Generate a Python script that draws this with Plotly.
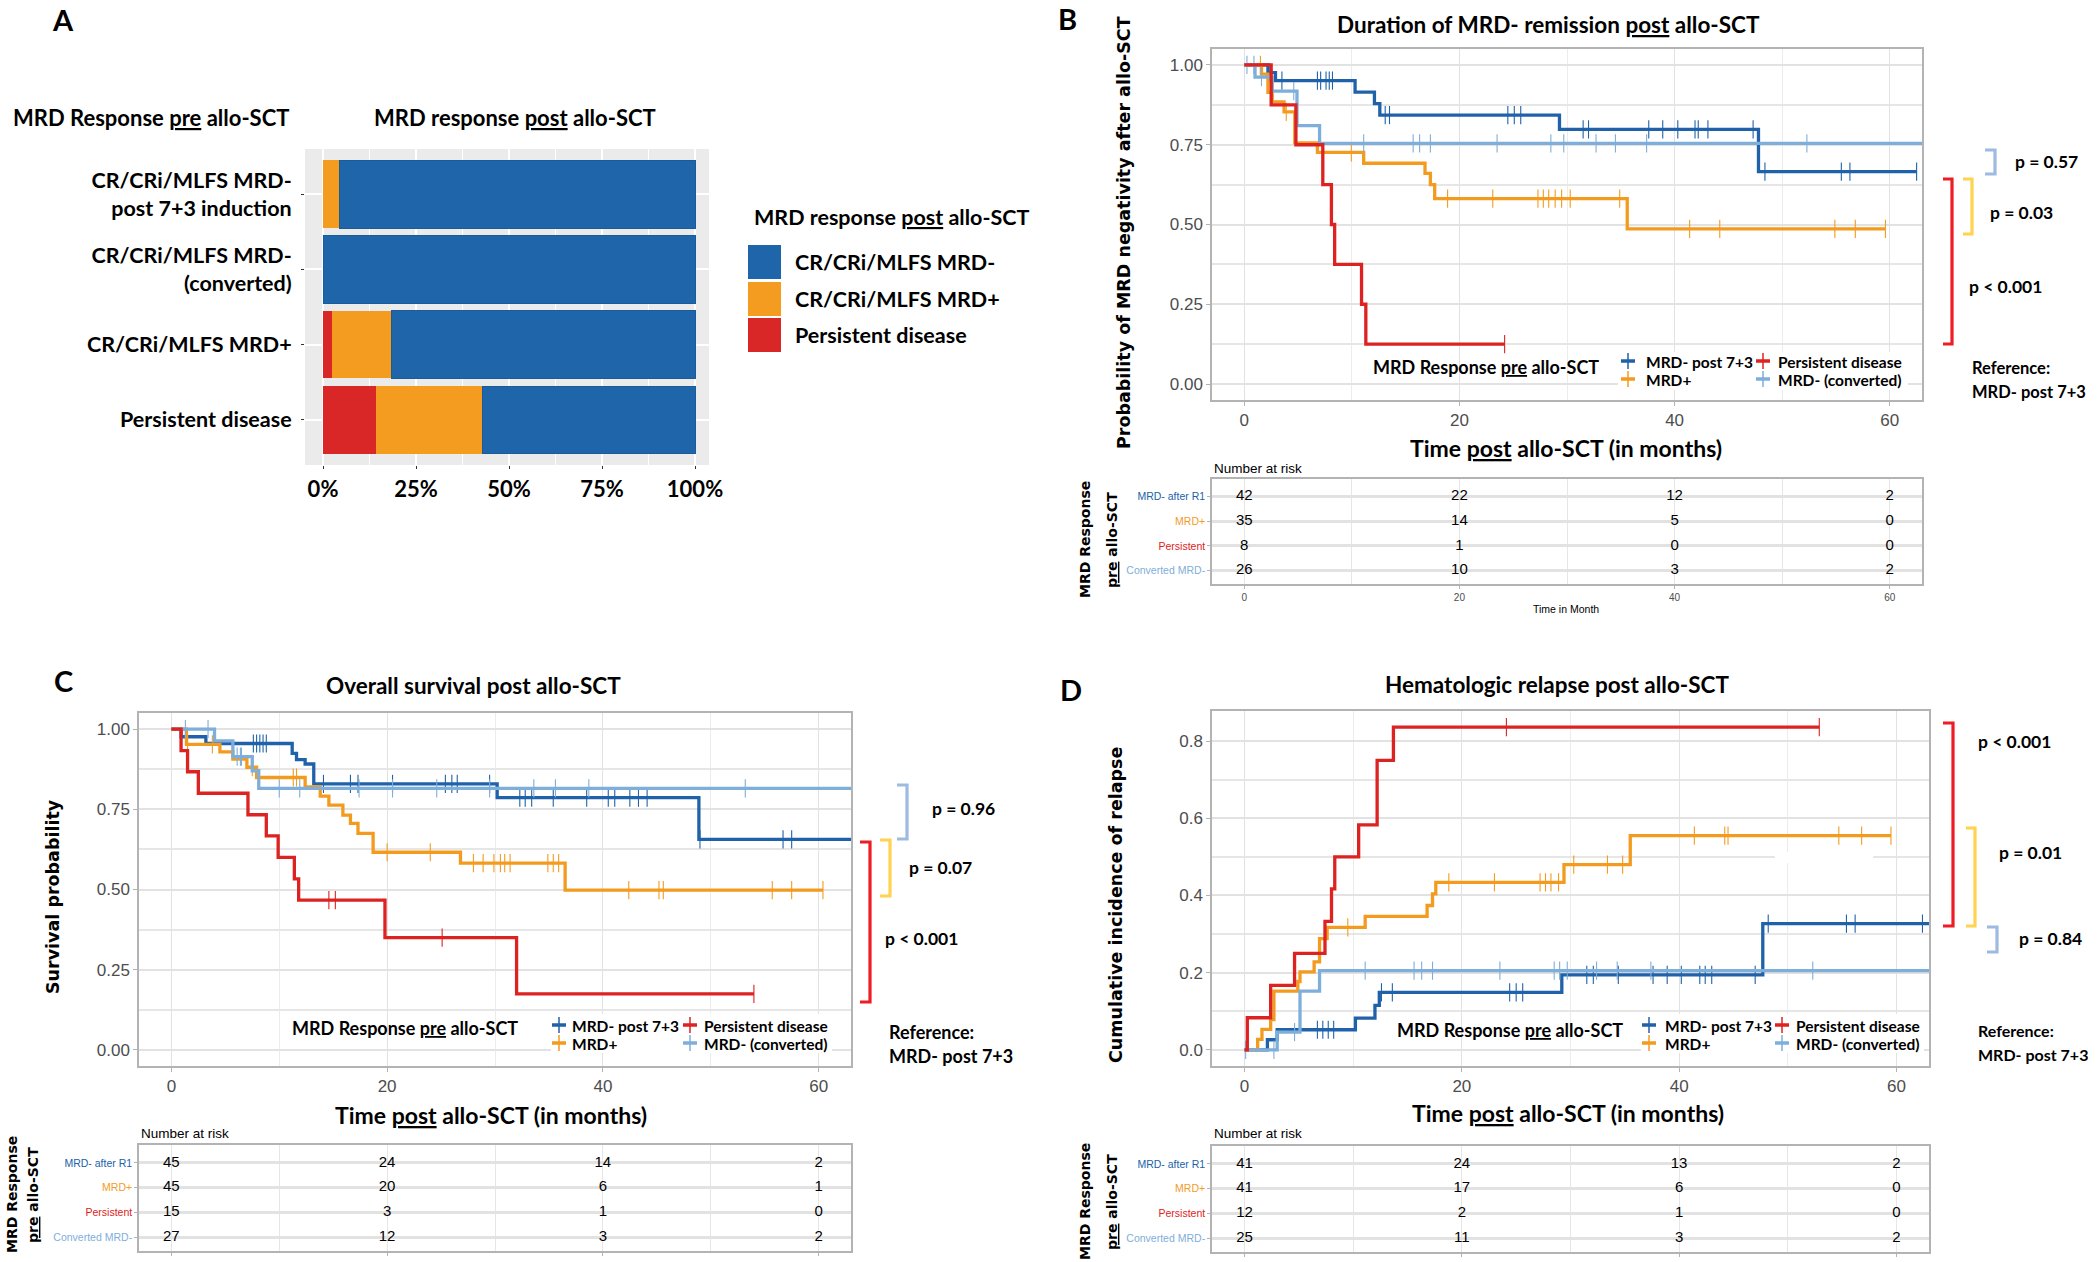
import plotly.graph_objects as go

W, H = 2100, 1262
def X(p): return p / W
def Y(p): return 1 - p / H

LATO = "Lato, Carlito, Calibri, sans-serif"
DEJA = "DejaVu Sans, Verdana, sans-serif"
LIB = "Liberation Sans, Arial, sans-serif"

BLUE = "#2062A9"; ORANGE = "#F39B1F"; RED = "#DD2222"; LBLUE = "#7EAEDA"
BAR_BLUE = "#1F65A9"; BAR_ORANGE = "#F39C20"; BAR_RED = "#D92727"

# ---------------- Panel A data ----------------
a_categories = ["CR/CRi/MLFS MRD-<br>post 7+3 induction", "CR/CRi/MLFS MRD-<br>(converted)",
                "CR/CRi/MLFS MRD+", "Persistent disease"]
a_persistent = [0.0, 0.0, 2.3, 14.3]
a_mrd_pos = [4.5, 0.0, 16.1, 28.6]
a_mrd_neg = [95.5, 100.0, 81.6, 57.1]
a_series = ["Persistent disease", "CR/CRi/MLFS MRD+", "CR/CRi/MLFS MRD-"]
a_ticks = [0, 25, 50, 75, 100]
a_ticklabels = ["0%", "25%", "50%", "75%", "100%"]

# ---------------- Panel B data (duration of MRD- remission) ----------------
b_blue_t = [0, 2.2, 2.9, 10.3, 12.1, 12.6, 29.3, 47.8, 62.5]
b_blue_s = [1.0, 0.976, 0.951, 0.915, 0.879, 0.843, 0.798, 0.666, 0.666]
b_blue_cens = [2.3, 3.5, 6.8, 7.1, 7.6, 7.9, 8.2, 13.1, 13.5, 24.5, 25.1, 25.7, 31.5, 32.0, 37.6, 38.9,
               40.3, 41.9, 42.2, 43.1, 47.3, 48.4, 55.5, 56.3, 62.5]
b_orange_t = [0, 1.6, 2.2, 2.6, 3.7, 4.7, 6.8, 11.1, 16.8, 17.3, 17.7, 35.6, 59.6]
b_orange_s = [1.0, 0.971, 0.914, 0.884, 0.853, 0.756, 0.726, 0.692, 0.66, 0.625, 0.581, 0.486, 0.486]
b_orange_cens = [1.5, 3.9, 9.95, 18.9, 23.1, 27.3, 27.8, 28.3, 28.9, 29.5, 30.3, 34.9, 41.4, 44.2,
                 54.9, 56.8, 59.6]
b_red_t = [0, 2.5, 4.8, 7.3, 8.1, 8.4, 10.9, 11.3, 24.2]
b_red_s = [1.0, 0.875, 0.75, 0.625, 0.5, 0.375, 0.25, 0.125, 0.125]
b_red_cens = [24.2]
b_lblue_t = [0, 1.0, 2.6, 4.9, 7.0, 63]
b_lblue_s = [1.0, 0.962, 0.918, 0.81, 0.754, 0.754]
b_lblue_cens = [0.25, 0.9, 1.6, 4.6, 11.1, 15.7, 16.3, 17.3, 23.5, 28.5, 29.7, 32.7, 34.5, 37.4, 52.3]

# ---------------- Panel C data (overall survival) ----------------
c_blue_t = [0, 0.9, 3.2, 11.2, 11.6, 12.4, 13.2, 30.2, 48.9, 63]
c_blue_s = [1.0, 0.976, 0.955, 0.924, 0.905, 0.891, 0.829, 0.786, 0.656, 0.656]
c_blue_cens = [7.6, 7.9, 8.2, 8.5, 8.8, 14.1, 16.6, 17.3, 20.5, 25.4, 26.0, 26.5, 29.5, 32.3, 32.8,
               33.4, 35.4, 38.5, 40.5, 41.1, 42.5, 43.3, 44.1, 49.0, 56.7, 57.5]
c_orange_t = [0, 1.4, 4.5, 5.7, 7.0, 7.9, 12.4, 13.8, 14.6, 15.9, 16.6, 17.3, 18.7, 26.8, 36.5, 60.4]
c_orange_s = [1.0, 0.952, 0.929, 0.906, 0.881, 0.849, 0.82, 0.791, 0.763, 0.732, 0.706, 0.675,
              0.616, 0.582, 0.498, 0.498]
c_orange_cens = [1.5, 3.8, 7.5, 11.3, 11.6, 20.0, 24.0, 28.0, 28.9, 29.9, 30.5, 30.9, 31.4, 34.9,
                 35.4, 35.9, 42.4, 45.2, 45.6, 55.7, 57.5, 60.4]
c_red_t = [0, 0.9, 1.5, 2.5, 7.1, 8.8, 9.9, 11.4, 11.8, 19.8, 32.0, 54.0]
c_red_s = [1.0, 0.933, 0.867, 0.80, 0.733, 0.667, 0.60, 0.533, 0.467, 0.35, 0.175, 0.175]
c_red_cens = [14.6, 15.2, 25.1, 54.0]
c_lblue_t = [0, 4.0, 5.7, 7.5, 8.1, 63]
c_lblue_s = [1.0, 0.963, 0.914, 0.87, 0.815, 0.815]
c_lblue_cens = [1.3, 3.4, 6.1, 6.4, 6.5, 10.0, 11.9, 17.4, 20.5, 24.6, 29.5, 33.6, 35.6, 38.7, 53.2]

# ---------------- Panel D data (cumulative incidence of relapse) ----------------
d_blue_t = [0, 2.1, 3.0, 10.2, 12.0, 12.4, 29.2, 47.7, 63]
d_blue_s = [0, 0.026, 0.052, 0.082, 0.115, 0.149, 0.194, 0.327, 0.327]
d_blue_cens = [6.7, 7.2, 7.7, 8.2, 12.6, 13.6, 24.4, 25.0, 25.6, 31.5, 32.1, 34.4, 37.6, 38.9, 40.2,
               41.9, 42.4, 43.0, 47.0, 48.2, 55.4, 56.2, 62.4]
d_orange_t = [0, 1.2, 1.6, 2.4, 2.7, 4.9, 5.1, 6.4, 6.9, 7.6, 11.1, 16.8, 17.3, 17.6, 29.4, 35.5, 59.5]
d_orange_s = [0, 0.027, 0.053, 0.078, 0.152, 0.177, 0.202, 0.228, 0.288, 0.317, 0.346, 0.374, 0.404,
              0.434, 0.48, 0.555, 0.555]
d_orange_cens = [9.5, 18.8, 23.0, 27.2, 27.7, 28.2, 28.9, 30.3, 33.4, 34.8, 41.4, 44.2, 44.5, 54.7,
                 56.8, 59.5]
d_red_t = [0, 0.25, 2.4, 4.6, 7.4, 8.0, 8.3, 10.5, 12.2, 13.7, 52.9]
d_red_s = [0, 0.083, 0.167, 0.25, 0.333, 0.417, 0.5, 0.583, 0.75, 0.836, 0.836]
d_red_cens = [24.1, 52.9]
d_lblue_t = [0, 3.0, 5.1, 6.9, 63]
d_lblue_s = [0, 0.046, 0.152, 0.205, 0.205]
d_lblue_cens = [0.1, 2.7, 4.6, 11.1, 15.6, 16.3, 17.3, 23.5, 28.5, 29.0, 29.7, 32.4, 34.3, 37.4, 52.3]

# ---------------- Risk tables ----------------
risk_rows = ["MRD- after R1", "MRD+", "Persistent", "Converted MRD-"]
risk_times = [0, 20, 40, 60]
b_risk = [[42, 22, 12, 2], [35, 14, 5, 0], [8, 1, 0, 0], [26, 10, 3, 2]]
c_risk = [[45, 24, 14, 2], [45, 20, 6, 1], [15, 3, 1, 0], [27, 12, 3, 2]]
d_risk = [[41, 24, 13, 2], [41, 17, 6, 0], [12, 2, 1, 0], [25, 11, 3, 2]]

legend_labels = ["MRD- post 7+3", "MRD+", "Persistent disease", "MRD- (converted)"]

# ============================================================
fig = go.Figure()
annotations = []
shapes = []

def ann(text, x, y, size, family=LATO, xanchor="center", color="black", angle=0, yanchor="middle"):
    annotations.append(dict(text=text, x=X(x), y=Y(y), xref="paper", yref="paper", showarrow=False,
                            xanchor=xanchor, yanchor=yanchor, textangle=angle,
                            font=dict(family=family, size=size, color=color)))

# ---- Panel A bars ----
for name, vals, col in zip(a_series, [a_persistent, a_mrd_pos, a_mrd_neg], [BAR_RED, BAR_ORANGE, BAR_BLUE]):
    fig.add_trace(go.Bar(y=a_categories, x=vals, orientation="h", name=name,
                         marker=dict(color=col, line=dict(width=1 if col == BAR_BLUE else 0, color="#1A5B9C")),
                         xaxis="x", yaxis="y", showlegend=False, hoverinfo="skip"))
shapes.append(dict(type="rect", xref="x domain", yref="y domain", x0=0, x1=1, y0=0, y1=1,
                   fillcolor="#EBEBEB", line=dict(width=0), layer="below"))

# ---- KM curves ----
def step_at(ts, ss, t):
    v = ss[0]
    for ti, si in zip(ts, ss):
        if ti <= t:
            v = si
        else:
            break
    return v

def add_curve(ts, ss, cens, color, xa, ya):
    fig.add_trace(go.Scatter(x=ts, y=ss, mode="lines", line=dict(shape="hv", color=color, width=3.3),
                             xaxis=xa, yaxis=ya, showlegend=False, hoverinfo="skip"))
    fig.add_trace(go.Scatter(x=cens, y=[step_at(ts, ss, c) for c in cens], mode="markers",
                             marker=dict(symbol="line-ns", size=13, color=color, line=dict(width=1.1, color=color)),
                             xaxis=xa, yaxis=ya, showlegend=False, hoverinfo="skip"))

panels = [
    ("x2", "y2", [(b_blue_t, b_blue_s, b_blue_cens, BLUE), (b_orange_t, b_orange_s, b_orange_cens, ORANGE),
                  (b_lblue_t, b_lblue_s, b_lblue_cens, LBLUE), (b_red_t, b_red_s, b_red_cens, RED)]),
    ("x4", "y4", [(c_blue_t, c_blue_s, c_blue_cens, BLUE), (c_orange_t, c_orange_s, c_orange_cens, ORANGE),
                  (c_lblue_t, c_lblue_s, c_lblue_cens, LBLUE), (c_red_t, c_red_s, c_red_cens, RED)]),
    ("x6", "y6", [(d_blue_t, d_blue_s, d_blue_cens, BLUE), (d_orange_t, d_orange_s, d_orange_cens, ORANGE),
                  (d_lblue_t, d_lblue_s, d_lblue_cens, LBLUE), (d_red_t, d_red_s, d_red_cens, RED)]),
]
for xa, ya, curves in panels:
    for ts, ss, cens, col in curves:
        add_curve(ts, ss, cens, col, xa, ya)

# ---- Risk tables ----
row_colors = [BLUE, ORANGE, RED, LBLUE]
for xa, ya, risk in [("x3", "y3", b_risk), ("x5", "y5", c_risk), ("x7", "y7", d_risk)]:
    for row, vals in zip(risk_rows, risk):
        fig.add_trace(go.Scatter(x=risk_times, y=[row] * len(risk_times), text=[str(v) for v in vals],
                                 mode="text", textfont=dict(family=LIB, size=15, color="black"),
                                 xaxis=xa, yaxis=ya, showlegend=False, hoverinfo="skip"))

# ---- axes ----
def xdom(a, b): return [X(a), X(b)]
def ydom(top, bot): return [Y(bot), Y(top)]

layout_axes = {}
layout_axes["xaxis"] = dict(domain=xdom(305, 709), anchor="y", range=[-4.84, 103.76], automargin=False,
                            tickvals=a_ticks, ticktext=a_ticklabels,
                            tickfont=dict(family=LATO, size=22, color="black", weight="bold"),
                            ticks="outside", ticklen=3, tickcolor="#333333", ticklabelstandoff=2,
                            showgrid=True, gridcolor="white", gridwidth=1.6,
                            minor=dict(tickvals=[12.5, 37.5, 62.5, 87.5], showgrid=True, gridcolor="white", gridwidth=0.8),
                            zeroline=False, showline=False)
layout_axes["yaxis"] = dict(domain=ydom(149, 465), anchor="x", type="category", automargin=False,
                            categoryorder="array", categoryarray=a_categories, range=[3.6, -0.6],
                            tickfont=dict(family=LATO, size=21.5, color="black", weight="bold"),
                            ticks="outside", ticklen=3, tickcolor="#333333", ticklabelstandoff=5,
                            showgrid=True, gridcolor="white", gridwidth=1.6, zeroline=False, showline=False)

def km_x(dom, anchor):
    return dict(domain=xdom(*dom), anchor=anchor, range=[-3, 63], tick0=0, dtick=20, automargin=False,
                ticks="outside", ticklen=4, tickcolor="#B3B3B3",
                tickfont=dict(family=LIB, size=17, color="#4D4D4D"),
                showgrid=True, gridcolor="#E2E2E2", gridwidth=1,
                minor=dict(dtick=10, showgrid=True, gridcolor="#ECECEC", gridwidth=1),
                showline=True, mirror=True, linecolor="#B3B3B3", linewidth=1.5, zeroline=False)

def km_y(dom, anchor, rng, dtick, fmt):
    return dict(domain=ydom(*dom), anchor=anchor, range=rng, tick0=0, dtick=dtick, tickformat=fmt,
                automargin=False, ticks="outside", ticklen=4, tickcolor="#B3B3B3",
                tickfont=dict(family=LIB, size=17, color="#4D4D4D"),
                showgrid=True, gridcolor="#E2E2E2", gridwidth=2,
                minor=dict(dtick=dtick / 2, showgrid=True, gridcolor="#E6E6E6", gridwidth=1.5),
                showline=True, mirror=True, linecolor="#B3B3B3", linewidth=1.5, zeroline=False)

def tab_x(dom, anchor, show_labels=True):
    return dict(domain=xdom(*dom), anchor=anchor, range=[-3, 63], tick0=0, dtick=20, automargin=False,
                ticks="outside", ticklen=3, tickcolor="#B3B3B3", showticklabels=show_labels,
                tickfont=dict(family=LIB, size=10, color="#4D4D4D"),
                showgrid=True, gridcolor="#E6E6E6", gridwidth=1,
                minor=dict(dtick=10, showgrid=True, gridcolor="#E6E6E6", gridwidth=1),
                showline=True, mirror=True, linecolor="#B3B3B3", linewidth=1.5, zeroline=False)

row_ticktext = [f"<span style='color:{c}'>{r}</span>" for r, c in zip(risk_rows, row_colors)]

def tab_y(dom, anchor):
    return dict(domain=ydom(*dom), anchor=anchor, type="category", categoryorder="array", automargin=False,
                categoryarray=risk_rows, range=[3.55, -0.72], tickvals=risk_rows, ticktext=row_ticktext,
                tickfont=dict(family=LIB, size=10.5), ticks="outside", ticklen=3, tickcolor="#B3B3B3",
                showgrid=True, gridcolor="#E2E2E2", gridwidth=2.5,
                showline=True, mirror=True, linecolor="#B3B3B3", linewidth=1.5, zeroline=False)

layout_axes["xaxis2"] = km_x((1212, 1922), "y2")
layout_axes["yaxis2"] = km_y((49, 400), "x2", [-0.05, 1.05], 0.25, ".2f")
layout_axes["xaxis3"] = tab_x((1212, 1922), "y3")
layout_axes["yaxis3"] = tab_y((479, 584), "x3")
layout_axes["xaxis4"] = km_x((139, 851), "y4")
layout_axes["yaxis4"] = km_y((713, 1066), "x4", [-0.05, 1.05], 0.25, ".2f")
layout_axes["xaxis5"] = tab_x((139, 851), "y5", show_labels=False)
layout_axes["yaxis5"] = tab_y((1145, 1251), "x5")
layout_axes["xaxis6"] = km_x((1212, 1929), "y6")
layout_axes["yaxis6"] = km_y((711, 1066), "x6", [-0.042, 0.878], 0.2, ".1f")
layout_axes["xaxis7"] = tab_x((1212, 1929), "y7", show_labels=False)
layout_axes["yaxis7"] = tab_y((1146, 1252), "x7")

# ---- Panel letters ----
for letter, x, y in [("A", 63, 20), ("B", 1067, 18), ("C", 63, 680), ("D", 1071, 689)]:
    ann(f"<b>{letter}</b>", x, y, 29)

# ---- Panel A texts & legend ----
ann("<b>MRD Response <u>pre</u> allo-SCT</b>", 151, 117, 22)
ann("<b>MRD response <u>post</u> allo-SCT</b>", 515, 117, 22)
ann("<b>MRD response <u>post</u> allo-SCT</b>", 752, 217, 21.5, xanchor="left")
for (lab, col, y0, y1) in [("CR/CRi/MLFS MRD-", BAR_BLUE, 245, 279), ("CR/CRi/MLFS MRD+", BAR_ORANGE, 282, 316),
                           ("Persistent disease", BAR_RED, 318, 352)]:
    shapes.append(dict(type="rect", xref="paper", yref="paper", x0=X(748), x1=X(781), y0=Y(y1), y1=Y(y0),
                       fillcolor=col, line=dict(width=0)))
    ann(f"<b>{lab}</b>", 793, (y0 + y1) / 2, 21.5, xanchor="left")

# ---- KM panel texts ----
def km_texts(title, tcx, ty, xt_cx, xt_y, ytitle, yt_x, yt_y,
             lg_cx, lg_y, sym_x1, sym_x2, lab_x1, lab_x2, row_y1, row_y2, ref_x, ref_y, ref_size,
             white_box, brackets, tab_title_x, tab_title_y, nar_x, nar_y):
    ann(f"<b>{title}</b>", tcx, ty, 22.5)
    ann("<b>Time <u>post</u> allo-SCT (in months)</b>", xt_cx, xt_y, 23)
    ann(f"<b>{ytitle}</b>", yt_x, yt_y, 17.5, family=DEJA, angle=-90)
    # legend
    shapes.append(dict(type="rect", xref="paper", yref="paper", x0=X(white_box[0]), x1=X(white_box[1]),
                       y0=Y(white_box[3]), y1=Y(white_box[2]), fillcolor="white", line=dict(width=0), layer="above"))
    ann("<b>MRD Response <u>pre</u> allo-SCT</b>", lg_cx, lg_y, 18)
    for (sx, lx, ry, lab, col) in [(sym_x1, lab_x1, row_y1, legend_labels[0], BLUE),
                                   (sym_x1, lab_x1, row_y2, legend_labels[1], ORANGE),
                                   (sym_x2, lab_x2, row_y1, legend_labels[2], RED),
                                   (sym_x2, lab_x2, row_y2, legend_labels[3], LBLUE)]:
        shapes.append(dict(type="line", xref="paper", yref="paper", x0=X(sx - 7), x1=X(sx + 7), y0=Y(ry), y1=Y(ry),
                           line=dict(color=col, width=3.5), layer="above"))
        shapes.append(dict(type="line", xref="paper", yref="paper", x0=X(sx), x1=X(sx), y0=Y(ry - 8), y1=Y(ry + 8),
                           line=dict(color=col, width=1.5), layer="above"))
        ann(f"<b>{lab}</b>", lx, ry + 1, 15.5, xanchor="left")
    ann("<b>Reference:</b>", ref_x, ref_y, ref_size, xanchor="left")
    ann("<b>MRD- post 7+3</b>", ref_x, ref_y + 24, ref_size, xanchor="left")
    for (x0, x1, yt, yb, col, ptxt, px, py) in brackets:
        shapes.append(dict(type="path", xref="paper", yref="paper",
                           path=f"M {X(x0)},{Y(yt)} L {X(x1)},{Y(yt)} L {X(x1)},{Y(yb)} L {X(x0)},{Y(yb)}",
                           line=dict(color=col, width=3.2)))
        ann(f"<b>{ptxt}</b>", px, py, 17.5, xanchor="left")
    # risk table titles
    ann("<b>MRD Response</b>", tab_title_x[0], tab_title_y, 14, family=DEJA, angle=-90)
    ann("<b><u>pre</u> allo-SCT</b>", tab_title_x[1], tab_title_y, 14, family=DEJA, angle=-90)
    ann("Number at risk", nar_x, nar_y, 13.5, family=LIB, xanchor="left")

BR_LB = "#9DBAE0"; BR_Y = "#FFD24F"; BR_R = "#EE1C24"

km_texts("Duration of MRD- remission <u>post</u> allo-SCT", 1548, 25, 1566, 448,
         "Probability of MRD negativity after allo-SCT", 1124, 233,
         1486, 367, 1628, 1763, 1644, 1776, 361, 379, 1970, 368, 16.5,
         (1618, 1908, 352, 390),
         [(1985, 1995, 150, 174, BR_LB, "p = 0.57", 2013, 161),
          (1963, 1972, 179, 234, BR_Y, "p = 0.03", 1988, 213),
          (1943, 1952, 179, 344, BR_R, "p < 0.001", 1967, 286)],
         (1085, 1112), 540, 1212, 468)
ann("Time in Month", 1566, 609, 10.5, family=LIB)

km_texts("Overall survival post allo-SCT", 473, 685, 491, 1115,
         "Survival probability", 53, 897,
         405, 1028, 559, 690, 570, 702, 1025, 1043, 887, 1032, 18,
         (551, 832, 1014, 1053),
         [(897, 907, 785, 839, BR_LB, "p = 0.96", 930, 808),
          (880, 890, 840, 896, BR_Y, "p = 0.07", 907, 867),
          (860, 870, 842, 1002, BR_R, "p < 0.001", 883, 938)],
         (12, 33), 1195, 139, 1133)

km_texts("Hematologic relapse post allo-SCT", 1557, 684, 1568, 1113,
         "Cumulative incidence of relapse", 1116, 905,
         1510, 1030, 1649, 1782, 1663, 1794, 1025, 1043, 1976, 1030, 16,
         (1641, 1924, 1014, 1053),
         [(1943, 1953, 723, 926, BR_R, "p < 0.001", 1976, 741),
          (1966, 1975, 828, 926, BR_Y, "p = 0.01", 1997, 852),
          (1987, 1997, 927, 952, BR_LB, "p = 0.84", 2017, 938)],
         (1085, 1112), 1202, 1212, 1133)

# small white patch present in the original panel D
shapes.append(dict(type="rect", xref="paper", yref="paper", x0=X(1775), x1=X(1873), y0=Y(863), y1=Y(852),
                   fillcolor="white", line=dict(width=0), layer="above"))

fig.update_layout(width=W, height=H, margin=dict(l=0, r=0, t=0, b=0, pad=0), autosize=False,
                  paper_bgcolor="white", plot_bgcolor="white", barmode="stack", bargap=0.1,
                  showlegend=False, annotations=annotations, shapes=shapes, **layout_axes)

fig.write_html("out.html", config={"displayModeBar": False},
               post_script="document.body.style.margin='0';document.body.style.overflow='hidden';")
